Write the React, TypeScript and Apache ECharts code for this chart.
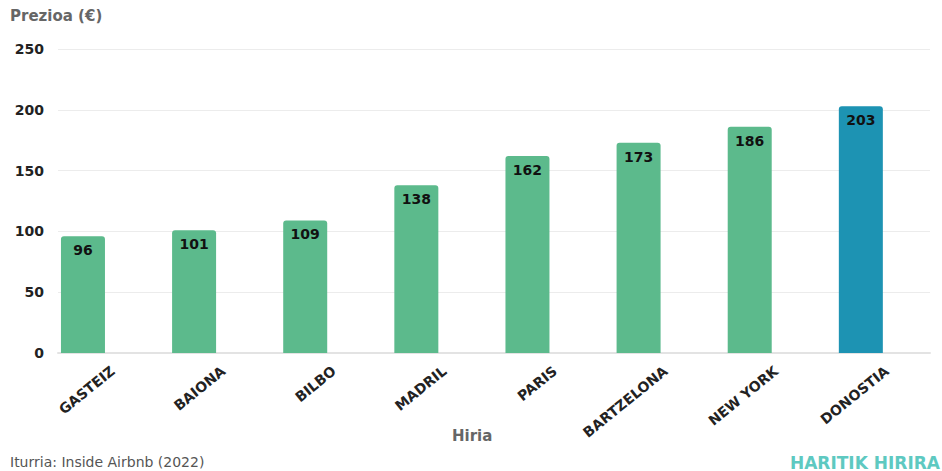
import React, { useEffect, useRef } from "react";
import * as echarts from "echarts";

const categories = ["GASTEIZ", "BAIONA", "BILBO", "MADRIL", "PARIS", "BARTZELONA", "NEW YORK", "DONOSTIA"];
const prices = [96, 101, 109, 138, 162, 173, 186, 203];
const highlight = "DONOSTIA";
const yTicks = [0, 50, 100, 150, 200, 250];

const FONT = "'DejaVu Sans', 'Noto Sans', sans-serif";

export default function App() {
  const ref = useRef<HTMLDivElement>(null);
  useEffect(() => {
    if (!ref.current) return;
    const chart = echarts.init(ref.current, null, { renderer: "svg" });
    const barsLeft = 27.4;
    const barsWidth = 889;
    const top = 49;
    const height = 304;
    chart.setOption({
      animation: false,
      textStyle: { fontFamily: FONT },
      grid: [
        { left: barsLeft, width: barsWidth, top, height },
        { left: 58, right: 12, top, height },
        { left: barsLeft + 30, width: barsWidth, top, height },
      ],
      xAxis: [
        {
          gridIndex: 0,
          type: "category",
          data: categories,
          axisLine: { show: false },
          axisTick: { show: false },
          axisLabel: { show: false },
        },
        {
          gridIndex: 1,
          type: "value",
          min: 0,
          max: 1,
          show: true,
          axisLine: { show: true, lineStyle: { color: "#e3e3e3", width: 2 } },
          axisTick: { show: false },
          axisLabel: { show: false },
          splitLine: { show: false },
        },
        {
          gridIndex: 2,
          type: "category",
          data: categories,
          axisLine: { show: false },
          axisTick: { show: false },
          axisLabel: {
            rotate: 39,
            interval: 0,
            margin: 16,
            fontFamily: FONT,
            fontWeight: "bold",
            fontSize: 14,
            color: "#222",
            align: "right",
            verticalAlign: "middle",
          },
        },
      ],
      yAxis: [
        {
          gridIndex: 0,
          type: "value",
          min: yTicks[0],
          max: yTicks[yTicks.length - 1],
          interval: 50,
          show: false,
          splitLine: { show: false },
        },
        {
          gridIndex: 1,
          type: "value",
          min: yTicks[0],
          max: yTicks[yTicks.length - 1],
          interval: 50,
          axisLine: { show: false },
          axisTick: { show: false },
          axisLabel: {
            margin: 14,
            fontFamily: FONT,
            fontWeight: "bold",
            fontSize: 14,
            color: "#222",
          },
          splitLine: { show: true, lineStyle: { color: "#ececec", width: 1 } },
        },
        {
          gridIndex: 2,
          type: "value",
          min: 0,
          max: 250,
          show: false,
          splitLine: { show: false },
        },
      ],
      series: [
        {
          type: "bar",
          xAxisIndex: 0,
          yAxisIndex: 0,
          barWidth: 44,
          data: prices.map((v, i) => ({
            value: v,
            itemStyle: { color: categories[i] === highlight ? "#1d93b3" : "#5cba8c" },
          })),
          itemStyle: { borderRadius: [3, 3, 0, 0] },
          label: {
            show: true,
            position: "insideTop",
            distance: 7,
            fontFamily: FONT,
            fontWeight: "bold",
            fontSize: 14,
            color: "#111",
          },
        },
      ],
      graphic: [
        {
          type: "text",
          left: 10,
          top: 8,
          style: { text: "Prezioa (€)", fontFamily: FONT, fontSize: 15, fontWeight: "bold", fill: "#666" },
        },
        {
          type: "text",
          left: 452,
          top: 428,
          style: { text: "Hiria", fontFamily: FONT, fontSize: 15, fontWeight: "bold", fill: "#666" },
        },
        {
          type: "text",
          left: 10,
          top: 455,
          style: { text: "Iturria: Inside Airbnb (2022)", fontFamily: FONT, fontSize: 14, fill: "#555" },
        },
        {
          type: "text",
          right: 2,
          top: 454,
          style: {
            text: "HARITIK HIRIRA",
            fontFamily: FONT,
            fontSize: 17,
            fontWeight: "bold",
            fill: "#5ec9c1",
          },
        },
      ],
    });
    return () => chart.dispose();
  }, []);
  return <div ref={ref} style={{ width: 942, height: 471, position: "absolute", left: 0, top: 0 }} />;
}
